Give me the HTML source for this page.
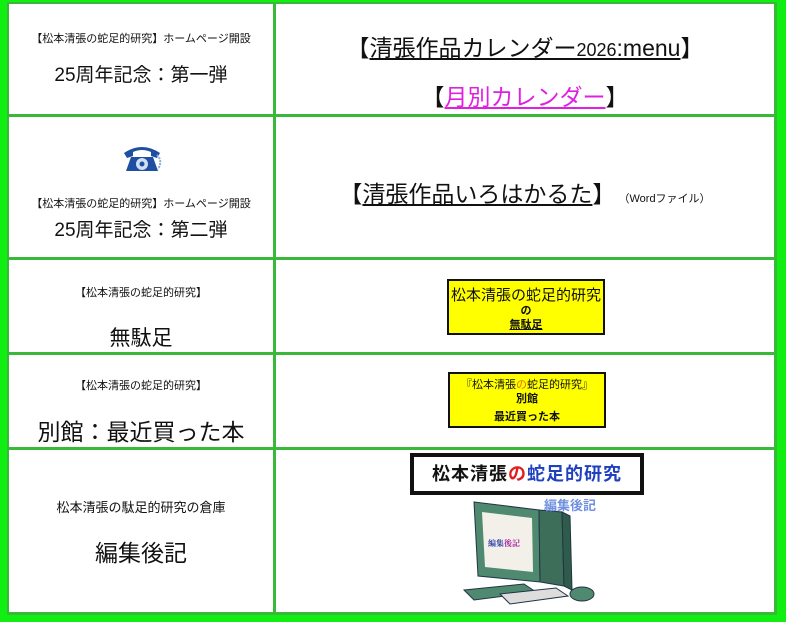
<!DOCTYPE html>
<html><head><meta charset="utf-8"><style>
body{margin:0;width:786px;height:622px;background:#11ee11;position:relative;overflow:hidden;font-family:"Liberation Sans","Noto Sans CJK JP",sans-serif;}
#g{position:absolute;left:7px;top:2px;width:770px;height:613px;background:#3ab83a;}
.c{position:absolute;background:#fff;text-align:center;color:#111;}
.s{font-size:11px;}
.m{font-size:19px;}
.yb{position:absolute;background:#ffff00;border:2px solid #111;font-weight:bold;font-size:11px;line-height:14px;text-align:center;color:#111;}
a{color:#111;}
</style></head><body>
<div id="g"></div>
<!-- row1 -->
<div class="c" style="left:9px;top:4px;width:264px;height:110px;">
 <div class="s" style="margin-top:26px;">【松本清張の蛇足的研究】ホームページ開設</div>
 <div class="m" style="margin-top:14px;">25周年記念：第一弾</div>
</div>
<div class="c" style="left:276px;top:4px;width:498px;height:110px;">
 <div style="font-size:23px;margin-top:25px;">【<u>清張作品カレンダー<span style="font-size:18px">2026</span>:menu</u>】</div>
 <div style="font-size:23px;margin-top:15px;">【<u style="color:#e020e0">月別カレンダー</u>】</div>
</div>
<!-- row2 -->
<div class="c" style="left:9px;top:117px;width:264px;height:140px;">
 <svg style="position:absolute;left:112px;top:26px" width="42" height="32" viewBox="0 0 42 32">
  <path d="M3 10 Q21 -2 39 10 L36 15 L30 13 L30 9 Q21 5 12 9 L12 13 L6 15 Z" fill="#1e4fa0"/>
  <path d="M10 14 L32 14 L37 28 L5 28 Z" fill="#1e4fa0"/>
  <circle cx="21" cy="21" r="6" fill="#cfe0f5"/><circle cx="21" cy="21" r="2.5" fill="#1e4fa0"/>
  <path d="M36 12 Q42 18 37 26" stroke="#8aa8d8" stroke-width="2" fill="none" stroke-dasharray="2 1"/>
 </svg>
 <div class="s" style="margin-top:78px;">【松本清張の蛇足的研究】ホームページ開設</div>
 <div class="m" style="margin-top:4px;">25周年記念：第二弾</div>
</div>
<div class="c" style="left:276px;top:117px;width:498px;height:140px;">
 <div style="margin-top:58px;"><span style="font-size:23px">【<u>清張作品いろはかるた</u>】</span><span style="font-size:11px"> （Wordファイル）</span></div>
</div>
<!-- row3 -->
<div class="c" style="left:9px;top:260px;width:264px;height:92px;">
 <div class="s" style="margin-top:24px;">【松本清張の蛇足的研究】</div>
 <div class="m" style="margin-top:22px;font-size:21px;">無駄足</div>
</div>
<div class="c" style="left:276px;top:260px;width:498px;height:92px;">
 <div class="yb" style="left:171px;top:19px;width:154px;height:52px;"><div style="font-size:15px;font-weight:normal;margin-top:6px;line-height:17px">松本清張の蛇足的研究</div><div>の</div><div><u>無駄足</u></div></div>
</div>
<!-- row4 -->
<div class="c" style="left:9px;top:355px;width:264px;height:92px;">
 <div class="s" style="margin-top:22px;">【松本清張の蛇足的研究】</div>
 <div style="font-size:23px;margin-top:20px;">別館：最近買った本</div>
</div>
<div class="c" style="left:276px;top:355px;width:498px;height:92px;">
 <div class="yb" style="left:172px;top:17px;width:154px;height:52px;"><div style="font-weight:normal;margin-top:4px">『松本清張<span style="color:#e07000">の</span>蛇足的研究』</div><div>別館</div><div style="margin-top:4px">最近買った本</div></div>
</div>
<!-- row5 -->
<div class="c" style="left:9px;top:450px;width:264px;height:162px;">
 <div style="font-size:13px;margin-top:47px;">松本清張の駄足的研究の倉庫</div>
 <div style="font-size:23px;margin-top:18px;">編集後記</div>
</div>
<div class="c" style="left:276px;top:450px;width:498px;height:162px;">
 <div style="position:absolute;left:134px;top:3px;width:226px;height:34px;border:4px solid #111;background:#fff;font-size:18px;font-weight:bold;line-height:34px;letter-spacing:1px;"><span>松本清張</span><span style="color:#e02020">の</span><span style="color:#2040c0">蛇足的研究</span></div>
 <svg style="position:absolute;left:168px;top:46px" width="160" height="112" viewBox="0 0 160 112">
  <polygon points="30,6 95,14 96,86 34,80" fill="#4f8a70" stroke="#234" stroke-width="1"/>
  <polygon points="38,16 88,22 89,76 41,71" fill="#f3f0ea"/>
  <polygon points="95,14 118,16 120,90 96,86" fill="#3c6e5a" stroke="#234"/>
  <polygon points="118,16 126,20 128,94 120,90" fill="#2f5c4a" stroke="#234"/>
  <polygon points="20,94 80,88 92,96 30,104" fill="#4f8a70" stroke="#234"/>
  <polygon points="56,98 112,92 124,100 66,108" fill="#ddd" stroke="#234"/>
  <ellipse cx="138" cy="98" rx="12" ry="7" fill="#4f8a70" stroke="#234"/>
  <text x="44" y="50" font-size="8" font-weight="bold" fill="#2030a0" font-family="Noto Serif CJK SC,serif">編集<tspan fill="#a020a0">後記</tspan></text>
  <text x="100" y="14" font-size="13" font-weight="bold" fill="#6f90e0" font-family="Noto Sans CJK JP,sans-serif">編集後記</text>
 </svg>
</div>
</body></html>
